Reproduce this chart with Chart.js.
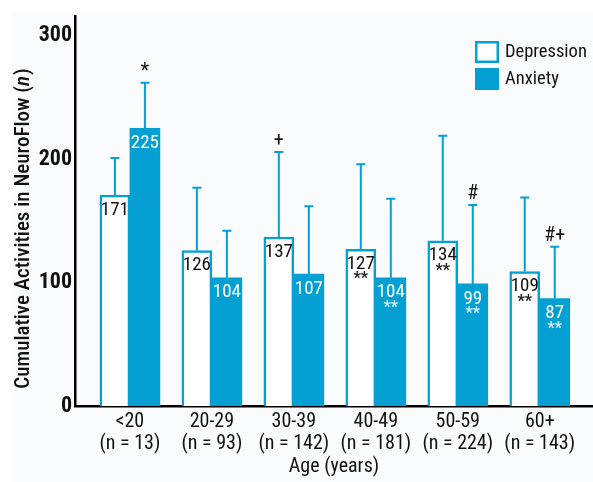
<!DOCTYPE html>
<html lang="en">
<head>
<meta charset="UTF-8">
<title>Cumulative Activities in NeuroFlow by Age</title>
<script src="https://cdn.jsdelivr.net/npm/chart.js"></script>
<style>
  html, body { margin: 0; padding: 0; background: #fff; }
  #wrap { width: 593px; height: 482px; }
</style>
</head>
<body>
<div id="wrap"><canvas id="ageChart" width="593" height="482"></canvas></div>
<script>
// values
const ageGroups = ['<20', '20-29', '30-39', '40-49', '50-59', '60+'];
const groupSizes = ['(n = 13)', '(n = 93)', '(n = 142)', '(n = 181)', '(n = 224)', '(n = 143)'];
const depression = [171, 126, 137, 127, 134, 109];
const anxiety = [225, 104, 107, 104, 99, 87];
// top of the error bars
const depressionUpper = [201, 177, 206, 196, 219, 169];
const anxietyUpper = [262, 142, 162, 168, 163, 129];
// symbols above the whiskers / under the values
const depressionMarks = ['', '', '+', '', '', ''];
const anxietyMarks = ['*', '', '', '', '#', '#+'];
const depressionStars = [false, false, false, true, true, true];
const anxietyStars = [false, false, false, true, true, true];
const yTicks = [0, 100, 200, 300];

const CYAN = '#04a0d4';
const FONT = "'Roboto Condensed', 'DejaVu Sans Condensed', sans-serif";

const bgPlugin = {
    id: 'bg',
    beforeDraw(chart) {
        const c = chart.ctx;
        c.save();
        c.fillStyle = '#fafbfc';
        c.fillRect(13, 12, chart.width - 13, chart.height - 12);
        c.restore();
    }
};

// y axis title, drawn by hand so the (n) can be italic
const yTitlePlugin = {
    id: 'yTitle',
    afterDraw(chart) {
        const c = chart.ctx;
        const parts = [['Cumulative Activities in NeuroFlow (', 'normal'], ['n', 'italic'], [')', 'normal']];
        c.save();
        c.translate(24, 229);
        c.rotate(-Math.PI / 2);
        c.textBaseline = 'middle';
        c.textAlign = 'left';
        c.fillStyle = '#111';
        const fontOf = st => st + ' 500 21px ' + FONT;
        let total = 0;
        parts.forEach(p => { c.font = fontOf(p[1]); total += c.measureText(p[0]).width; });
        let x = -total / 2;
        parts.forEach(p => {
            c.font = fontOf(p[1]);
            c.fillText(p[0], x, 0);
            x += c.measureText(p[0]).width + (p[1] === 'italic' ? 1 : 0);
        });
        c.restore();
    }
};

const marksPlugin = {
    id: 'marks',
    afterDatasetsDraw(chart) {
        const c = chart.ctx;
        const ys = chart.scales.y;
        const sets = [
            {upper: depressionUpper, marks: depressionMarks, stars: depressionStars, vals: depression, color: '#111', starColor: '#222'},
            {upper: anxietyUpper, marks: anxietyMarks, stars: anxietyStars, vals: anxiety, color: '#fff', starColor: '#d6eef8'}
        ];
        c.save();
        sets.forEach((s, di) => {
            chart.getDatasetMeta(di).data.forEach((bar, i) => {
                const x = bar.x, top = bar.y;
                const yUp = ys.getPixelForValue(s.upper[i]);
                // whisker
                c.strokeStyle = CYAN;
                c.lineWidth = 2;
                c.beginPath();
                c.moveTo(x, top);
                c.lineTo(x, yUp);
                c.moveTo(x - 4.5, yUp);
                c.lineTo(x + 4.5, yUp);
                c.stroke();
                // value
                c.textAlign = 'center';
                c.textBaseline = 'middle';
                c.fillStyle = s.color;
                c.font = '19px ' + FONT;
                c.fillText(String(s.vals[i]), x, top + 15);
                if (s.stars[i]) {
                    c.fillStyle = s.starColor;
                    c.font = 'bold 16px ' + FONT;
                    c.fillText('**', x, top + 30);
                }
                if (s.marks[i]) {
                    c.fillStyle = '#111';
                    c.font = '20px ' + FONT;
                    c.fillText(s.marks[i], x, yUp - 11);
                }
            });
        });
        c.restore();
    }
};

const legendPlugin = {
    id: 'boxLegend',
    afterDraw(chart) {
        const c = chart.ctx;
        const items = chart.data.datasets;
        c.save();
        items.forEach((ds, i) => {
            const bx = 475, by = 41 + i * 27;
            c.fillStyle = ds.backgroundColor;
            c.fillRect(bx, by, 24, 22);
            c.strokeStyle = ds.borderColor;
            c.lineWidth = 2.5;
            c.strokeRect(bx + 1.25, by + 1.25, 21.5, 19.5);
            c.fillStyle = '#111';
            c.font = '18.5px ' + FONT;
            c.textAlign = 'left';
            c.textBaseline = 'middle';
            c.fillText(ds.label, bx + 30, by + 11);
        });
        c.restore();
    }
};

new Chart(document.getElementById('ageChart'), {
    type: 'bar',
    data: {
        datasets: [
            {
                label: 'Depression',
                data: depression.map((v, i) => ({x: i, y: v})),
                backgroundColor: '#ffffff',
                borderColor: CYAN,
                borderWidth: 2.5,
                barThickness: 30
            },
            {
                label: 'Anxiety',
                data: anxiety.map((v, i) => ({x: i, y: v})),
                backgroundColor: CYAN,
                borderColor: CYAN,
                borderWidth: 0,
                barThickness: 30
            }
        ]
    },
    options: {
        responsive: false,
        animation: false,
        layout: {padding: {top: 13, left: 0, right: 0, bottom: 0}},
        plugins: {legend: {display: false}, tooltip: {enabled: false}},
        scales: {
            x: {
                type: 'linear',
                offset: false,
                min: -0.67,
                max: 5.65,
                afterBuildTicks: s => { s.ticks = ageGroups.map((g, i) => ({value: i})); },
                afterFit: s => { s.height = 76; },
                grid: {display: false, drawTicks: false},
                border: {color: '#000', width: 2.5},
                ticks: {
                    autoSkip: false,
                    maxRotation: 0,
                    padding: 5,
                    color: '#111',
                    font: {family: FONT, size: 20, lineHeight: 1.1},
                    callback: v => [ageGroups[v], groupSizes[v]]
                },
                title: {
                    display: true,
                    text: 'Age (years)',
                    color: '#111',
                    font: {family: FONT, size: 20},
                    padding: {top: 0, bottom: 3}
                }
            },
            y: {
                min: 0,
                max: 316,
                afterBuildTicks: s => { s.ticks = yTicks.map(v => ({value: v})); },
                afterFit: s => { s.width = 75; },
                grid: {display: false, drawTicks: false},
                border: {color: '#000', width: 2.5},
                ticks: {
                    padding: 3,
                    color: '#111',
                    font: {family: FONT, size: 22, weight: 'bold'}
                },
                title: {display: false}
            }
        }
    },
    plugins: [bgPlugin, marksPlugin, legendPlugin, yTitlePlugin]
});
</script>
</body>
</html>
